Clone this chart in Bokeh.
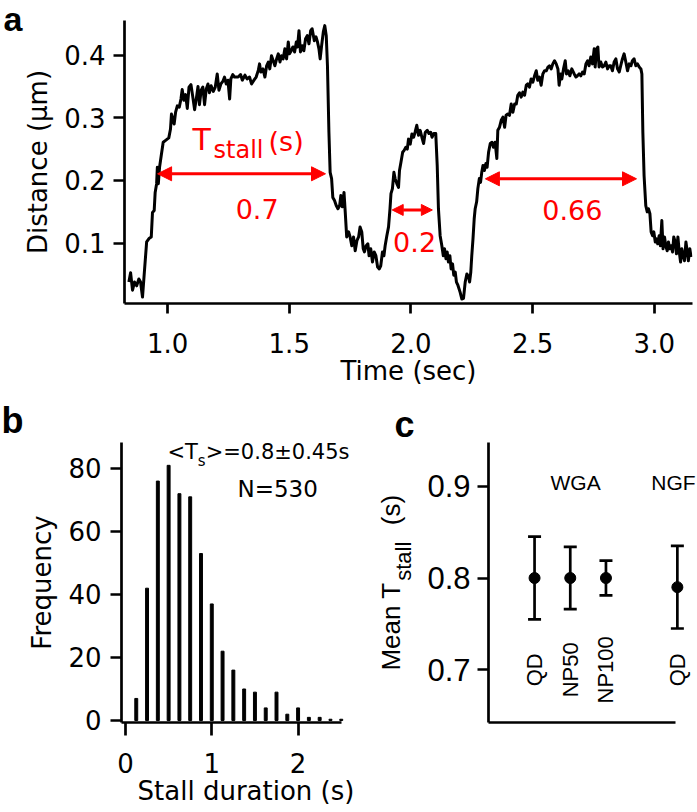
import math
from bokeh.plotting import figure
from bokeh.models import (Range1d, FixedTicker, PrintfTickFormatter, Label, Arrow,
                          NormalHead, Whisker, TeeHead, ColumnDataSource)
from bokeh.layouts import column, row
from bokeh.embed import file_html
from bokeh.resources import INLINE
from bokeh.core.properties import value

# ---------------- data: panel a (distance trace) ----------------
time_s = [
    0.841, 0.848, 0.856, 0.864, 0.873, 0.882, 0.889, 0.897, 0.905, 0.914,
    0.925, 0.933, 0.938, 0.945, 0.949, 0.955, 0.958, 0.962, 0.967, 0.974,
    0.982, 0.992, 1.005, 1.012, 1.016, 1.022, 1.027, 1.033, 1.040, 1.048,
    1.055, 1.060, 1.067, 1.074, 1.081, 1.088, 1.096, 1.103, 1.111, 1.119,
    1.125, 1.131, 1.138, 1.145, 1.152, 1.159, 1.166, 1.172, 1.179, 1.188,
    1.196, 1.204, 1.211, 1.219, 1.227, 1.234, 1.241, 1.248, 1.255, 1.260,
    1.268, 1.275,
    1.290, 1.300, 1.307, 1.318, 1.327, 1.337, 1.345, 1.355, 1.364, 1.373,
    1.378, 1.383, 1.392, 1.400, 1.407, 1.414, 1.420, 1.427, 1.434, 1.441,
    1.448, 1.455, 1.462, 1.468, 1.475, 1.482, 1.489, 1.496, 1.501, 1.508,
    1.515, 1.522, 1.529, 1.534, 1.540, 1.546, 1.553, 1.560, 1.567, 1.574,
    1.581, 1.588, 1.594, 1.603, 1.610, 1.616, 1.622, 1.627, 1.633, 1.640,
    1.646, 1.652, 1.657, 1.663, 1.668, 1.674, 1.679, 1.686, 1.693, 1.700,
    1.707, 1.712, 1.718, 1.725, 1.730, 1.736,
    1.744, 1.750, 1.757, 1.764, 1.771, 1.778, 1.785, 1.791, 1.798, 1.804,
    1.809, 1.816, 1.823, 1.828, 1.835, 1.842, 1.849, 1.856, 1.863, 1.870,
    1.876, 1.883, 1.889, 1.894, 1.901, 1.908, 1.914, 1.918, 1.924, 1.930,
    1.935, 1.942, 1.949, 1.953, 1.959, 1.966, 1.972, 1.979, 1.985, 1.990,
    1.997, 2.004, 2.011, 2.017, 2.024, 2.031, 2.038, 2.045, 2.052, 2.059,
    2.067, 2.074, 2.081, 2.087, 2.094, 2.102, 2.108, 2.113, 2.120, 2.127,
    2.133, 2.138, 2.144, 2.149, 2.154, 2.160, 2.165, 2.171, 2.176, 2.182,
    2.187, 2.193,
    2.202, 2.209, 2.216, 2.223, 2.230, 2.237, 2.241, 2.246, 2.250, 2.255,
    2.260, 2.264, 2.270, 2.275, 2.281, 2.286, 2.291, 2.296, 2.302, 2.308,
    2.313, 2.319, 2.326, 2.333, 2.339, 2.346, 2.353, 2.357, 2.364, 2.371,
    2.378, 2.385, 2.391, 2.398, 2.405, 2.412, 2.419, 2.426, 2.433, 2.439,
    2.446, 2.453, 2.460, 2.467, 2.474, 2.480, 2.487, 2.494, 2.501, 2.508,
    2.515, 2.521, 2.528, 2.535, 2.542, 2.549, 2.556, 2.563, 2.569, 2.576,
    2.583, 2.590, 2.597, 2.604, 2.609, 2.615, 2.620, 2.627, 2.634, 2.639,
    2.646, 2.653, 2.661,
    2.671, 2.678, 2.684, 2.691, 2.698, 2.705, 2.712, 2.719, 2.726, 2.732,
    2.739, 2.746, 2.753, 2.757, 2.763, 2.768, 2.773, 2.780, 2.787, 2.794,
    2.801, 2.808, 2.815, 2.821, 2.828, 2.835, 2.842, 2.849, 2.856, 2.862,
    2.869, 2.876, 2.883, 2.890, 2.897, 2.904, 2.910, 2.917, 2.924, 2.931,
    2.938, 2.945, 2.949, 2.953, 2.958, 2.965, 2.971, 2.976, 2.982, 2.987,
    2.993, 2.998, 3.004, 3.009, 3.014, 3.020, 3.025, 3.031, 3.036, 3.042,
    3.047, 3.053, 3.058, 3.064, 3.069, 3.075, 3.080, 3.086, 3.091, 3.097,
    3.102, 3.108, 3.113, 3.119, 3.124, 3.130, 3.135, 3.140, 3.146, 3.151,
]
distance_um = [
    0.038, 0.053, 0.025, 0.038, 0.032, 0.043, 0.038, 0.014, 0.056, 0.102,
    0.108, 0.110, 0.149, 0.152, 0.181, 0.195, 0.221, 0.195, 0.221, 0.240,
    0.261, 0.264, 0.268, 0.282, 0.306, 0.297, 0.290, 0.309, 0.319, 0.317,
    0.330, 0.345, 0.328, 0.337, 0.315, 0.349, 0.353, 0.335, 0.313, 0.333,
    0.350, 0.321, 0.344, 0.349, 0.321, 0.346, 0.354, 0.340, 0.351, 0.342,
    0.349, 0.370, 0.344, 0.354, 0.358, 0.365, 0.354, 0.360, 0.330, 0.362,
    0.369, 0.365,
    0.365, 0.369, 0.360, 0.368, 0.362, 0.365, 0.354, 0.360, 0.365, 0.376,
    0.386, 0.373, 0.378, 0.365, 0.383, 0.389, 0.378, 0.399, 0.391, 0.383,
    0.394, 0.402, 0.389, 0.399, 0.394, 0.410, 0.394, 0.421, 0.402, 0.407,
    0.413, 0.405, 0.421, 0.413, 0.439, 0.405, 0.415, 0.407, 0.426, 0.431,
    0.418, 0.439, 0.442, 0.423, 0.429, 0.421, 0.410, 0.394, 0.415, 0.437,
    0.447, 0.431, 0.383, 0.277, 0.213, 0.203, 0.173, 0.168, 0.160, 0.155,
    0.160, 0.176, 0.158, 0.181, 0.150, 0.110,
    0.118, 0.110, 0.096, 0.110, 0.088, 0.104, 0.110, 0.126, 0.118, 0.091,
    0.086, 0.096, 0.099, 0.080, 0.091, 0.070, 0.086, 0.080, 0.062, 0.059,
    0.064, 0.086, 0.080, 0.096, 0.112, 0.126, 0.155, 0.179, 0.187, 0.213,
    0.203, 0.195, 0.189, 0.216, 0.229, 0.245, 0.248, 0.253, 0.250, 0.266,
    0.258, 0.274, 0.269, 0.277, 0.288, 0.272, 0.280, 0.269, 0.259, 0.277,
    0.280, 0.275, 0.277, 0.269, 0.275, 0.275, 0.224, 0.155, 0.112, 0.096,
    0.080, 0.091, 0.075, 0.086, 0.070, 0.080, 0.059, 0.067, 0.049, 0.054,
    0.038, 0.033,
    0.022, 0.011, 0.012, 0.038, 0.051, 0.046, 0.038, 0.054, 0.080, 0.107,
    0.139, 0.155, 0.166, 0.187, 0.203, 0.197, 0.213, 0.224, 0.216, 0.227,
    0.221, 0.245, 0.259, 0.261, 0.253, 0.261, 0.235, 0.280, 0.285, 0.296,
    0.301, 0.285, 0.304, 0.306, 0.304, 0.322, 0.309, 0.322, 0.322, 0.336,
    0.340, 0.333, 0.341, 0.336, 0.352, 0.354, 0.349, 0.362, 0.357, 0.367,
    0.375, 0.360, 0.365, 0.352, 0.370, 0.375, 0.375, 0.381, 0.383, 0.378,
    0.386, 0.391, 0.386, 0.378, 0.352, 0.370, 0.362, 0.378, 0.391, 0.370,
    0.375, 0.367, 0.378,
    0.370, 0.365, 0.367, 0.370, 0.367, 0.373, 0.370, 0.386, 0.391, 0.383,
    0.397, 0.386, 0.410, 0.381, 0.410, 0.413, 0.381, 0.389, 0.381, 0.383,
    0.389, 0.378, 0.383, 0.383, 0.375, 0.389, 0.394, 0.378, 0.373, 0.383,
    0.394, 0.402, 0.389, 0.375, 0.386, 0.383, 0.391, 0.394, 0.383, 0.386,
    0.381, 0.378, 0.370, 0.277, 0.208, 0.160, 0.150, 0.155, 0.147, 0.118,
    0.112, 0.118, 0.102, 0.107, 0.099, 0.112, 0.096, 0.136, 0.091, 0.110,
    0.096, 0.088, 0.102, 0.091, 0.096, 0.086, 0.110, 0.102, 0.083, 0.110,
    0.088, 0.070, 0.091, 0.080, 0.072, 0.102, 0.088, 0.072, 0.091, 0.078,
]
n_pts = min(len(time_s), len(distance_um))
time_s, distance_um = time_s[:n_pts], distance_um[:n_pts]

# stall intervals (arrow start, arrow end, height) and their labels
stall_start = [0.959, 1.923, 2.306]
stall_end = [1.649, 2.088, 2.927]
stall_level = [0.2107, 0.153, 0.2027]
stall_text = ["0.7", "0.2", "0.66"]
stall_text_x = [1.368, 2.015, 2.663]
stall_text_y = [0.155, 0.1016, 0.1533]

a_xticks = [1.0, 1.5, 2.0, 2.5, 3.0]
a_yticks = [0.1, 0.2, 0.3, 0.4]

# ---------------- data: panel b (histogram) ----------------
bin_centers = [0.125, 0.25, 0.375, 0.5, 0.625, 0.75, 0.875, 1.0, 1.125, 1.25,
               1.375, 1.5, 1.625, 1.75, 1.875, 2.0, 2.125, 2.25, 2.375, 2.5]
counts = [7, 42, 76, 81, 72, 71, 53, 37, 22, 16,
          10, 9, 4, 9, 2, 4, 1, 1, 0.4, 0.4]
b_xticks = [0, 1, 2]
b_yticks = [0, 20, 40, 60, 80]

# ---------------- data: panel c (mean stall time) ----------------
groups = ["QD", "NP50", "NP100", "QD"]
probes = ["WGA", "WGA", "WGA", "NGF"]
group_pos = [1, 2, 3, 5]          # slot on the x axis (gap before NGF)
mean_tstall = [0.800, 0.800, 0.800, 0.790]
err_tstall = [0.045, 0.034, 0.019, 0.045]
c_yticks = [0.7, 0.8, 0.9]

FA = "DejaVu Sans"
FC = "Liberation Sans"
NB = "\u00a0"


def style_axis(ax, font, size, tick_out=10, label_size="26px"):
    ax.axis_line_width = 2.7
    ax.axis_line_color = "black"
    ax.major_tick_line_width = 2.7
    ax.major_tick_line_color = "black"
    ax.major_tick_out = tick_out
    ax.major_tick_in = 0
    ax.minor_tick_line_color = None
    ax.major_label_text_font = font
    ax.major_label_text_font_size = size
    ax.major_label_text_color = "black"
    ax.axis_label_text_font = font
    ax.axis_label_text_font_size = label_size
    ax.axis_label_text_font_style = "normal"
    ax.axis_label_text_color = "black"


def base_fig(**kw):
    p = figure(output_backend="svg", toolbar_location=None, **kw)
    p.xgrid.visible = False
    p.ygrid.visible = False
    p.outline_line_color = None
    p.background_fill_color = "white"
    p.border_fill_color = "white"
    return p


def lab(x, y, text, font, size, **kw):
    kw.setdefault("text_color", "black")
    kw.setdefault("text_baseline", "alphabetic")
    return Label(x=x, y=y, text=text, text_font=font, text_font_size=size, **kw)


# ---------------- panel a ----------------
pa = base_fig(width=697, height=397,
              x_range=Range1d(0.823, 3.157), y_range=Range1d(0.0038, 0.4552),
              min_border_left=124, min_border_right=5,
              min_border_top=20, min_border_bottom=94)
pa.line(time_s, distance_um, line_width=3, color="black", line_join="round")
style_axis(pa.xaxis[0], FA, "26px", tick_out=10)
style_axis(pa.yaxis[0], FA, "26px", tick_out=11)
pa.xaxis.ticker = FixedTicker(ticks=a_xticks)
pa.yaxis.ticker = FixedTicker(ticks=a_yticks)
pa.xaxis.formatter = PrintfTickFormatter(format="%.1f")
pa.yaxis.formatter = PrintfTickFormatter(format="%.1f")
pa.xaxis.axis_label = "Time (sec)"
pa.yaxis.axis_label = "Distance (\u03bcm)"
pa.xaxis.major_label_standoff = 19
pa.xaxis.axis_label_standoff = 0
pa.yaxis.major_label_standoff = 8
pa.yaxis.axis_label_standoff = 8

for xs, xe, yl, sz in zip(stall_start, stall_end, stall_level, [14, 11, 14]):
    pa.add_layout(Arrow(x_start=xs, y_start=yl, x_end=xe, y_end=yl,
                        line_color="red", line_width=3,
                        start=NormalHead(size=sz, fill_color="red", line_color="red", line_width=1),
                        end=NormalHead(size=sz, fill_color="red", line_color="red", line_width=1)))
for tx, ty, tt in zip(stall_text_x, stall_text_y, stall_text):
    pa.add_layout(lab(tx, ty, tt, FA, "27px", text_color="red",
                      text_align="center", text_baseline="middle"))
pa.add_layout(lab(1.1027, 0.2657, "T", FA, "30px", text_color="red"))
pa.add_layout(lab(1.189, 0.2488, "stall", FA, "24px", text_color="red"))
pa.add_layout(lab(1.415, 0.2628, "(s)", FA, "27px", text_color="red"))
# panel letter lives in the left border (side panel -> not clipped)
pa.add_layout(lab(0.326, 0.4571, "a", FC, "34px", text_font_style="bold"), "left")

# ---------------- panel b ----------------
# (frames of b and c are aligned by the row layout: top 442, bottom 722)
pb = base_fig(width=370, height=415,
              x_range=Range1d(-0.046, 2.839), y_range=Range1d(-0.635, 88.25),
              min_border_left=121, min_border_right=0,
              min_border_top=45, min_border_bottom=90)
pb.vbar(x=bin_centers, top=counts, bottom=0, width=0.034, color="black")
style_axis(pb.xaxis[0], FA, "26px", tick_out=13)
style_axis(pb.yaxis[0], FA, "26px", tick_out=11)
pb.xaxis.bounds = (-0.046, 2.503)
pb.xaxis.ticker = FixedTicker(ticks=b_xticks)
pb.yaxis.ticker = FixedTicker(ticks=b_yticks)
pb.xaxis.axis_label = "Stall duration (s)"
pb.yaxis.axis_label = "Frequency"
pb.xaxis.major_label_standoff = 17
pb.xaxis.axis_label_standoff = 0
pb.yaxis.major_label_standoff = 9
pb.yaxis.axis_label_standoff = 8

pb.add_layout(lab(0.487, 85.2, "<T", FA, "21px"))
pb.add_layout(lab(0.838, 82.3, "s", FA, "15px"))
pb.add_layout(lab(0.929, 85.2, ">=0.8\u00b10.45s", FA, "21px"))
pb.add_layout(lab(1.298, 73.4, "N=530", FA, "23px"))
pb.add_layout(lab(-1.437, 95.2, "b", FC, "36px", text_font_style="bold"), "left")

# ---------------- panel c ----------------
pc = base_fig(width=327, height=415,
              x_range=Range1d(-0.29, 5.564), y_range=Range1d(0.6426, 0.9476),
              min_border_left=118, min_border_right=0,
              min_border_top=45, min_border_bottom=90)
upper = [m + e for m, e in zip(mean_tstall, err_tstall)]
lower = [m - e for m, e in zip(mean_tstall, err_tstall)]
src = ColumnDataSource(dict(x=group_pos, mean=mean_tstall, upper=upper, lower=lower,
                            group=groups, probe=probes))
pc.add_layout(Whisker(source=src, base="x", upper="upper", lower="lower",
                      line_width=2.7, line_color="black",
                      upper_head=TeeHead(size=13, line_width=2.7, line_color="black"),
                      lower_head=TeeHead(size=13, line_width=2.7, line_color="black")))
pc.scatter("x", "mean", source=src, size=11, color="black")
pc.text(x="x", y=0.7, text="group", source=src, angle=math.pi / 2,
        text_align="center", text_baseline="middle",
        text_font=value(FC), text_font_size="22px", text_color="black")
style_axis(pc.xaxis[0], FC, "0px", tick_out=0)
style_axis(pc.yaxis[0], FC, "31px", tick_out=11)
pc.xaxis.bounds = (-0.29, 4.96)
pc.xaxis.ticker = FixedTicker(ticks=[])
pc.xaxis.major_tick_line_color = None
pc.yaxis.ticker = FixedTicker(ticks=c_yticks)
pc.yaxis.formatter = PrintfTickFormatter(format="%.1f")
pc.yaxis.major_label_standoff = 7
pc.yaxis.axis_label = "Mean T" + NB * 8 + "(s)"
pc.yaxis.axis_label_standoff = 18

pc.add_layout(lab(2.15, 0.904, "WGA", FC, "21px", text_align="center", text_baseline="middle"))
pc.add_layout(lab(4.89, 0.904, "NGF", FC, "21px", text_align="center", text_baseline="middle"))
pc.add_layout(lab(-2.657, 0.797, "stall", FC, "22px", angle=math.pi / 2), "below")
pc.add_layout(lab(-2.923, 0.967, "c", FC, "36px", text_font_style="bold"), "above")

layout = column(pa, row(pb, pc))
open("out.html", "w").write(file_html(layout, INLINE))
